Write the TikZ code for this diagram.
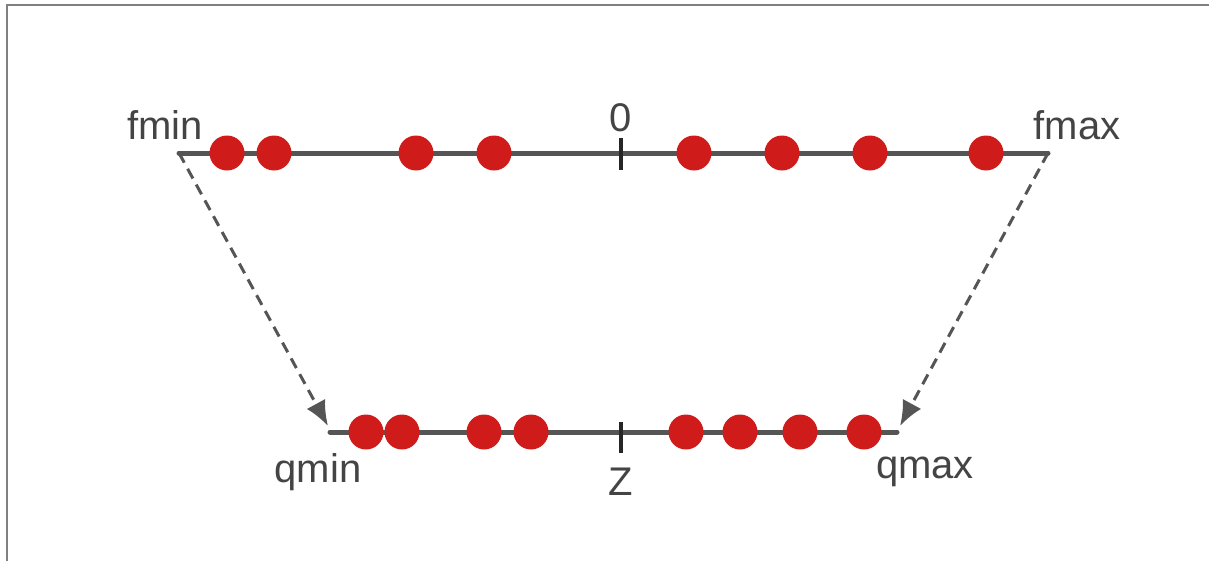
\documentclass[tikz,border=0pt]{standalone}
\usepackage{fontspec}
\setmainfont{Liberation Sans}
\usetikzlibrary{arrows.meta}
\definecolor{axisgray}{HTML}{555555}
\definecolor{dotred}{HTML}{D01B1B}
\definecolor{txtgray}{HTML}{444444}
\definecolor{framegray}{HTML}{808080}
\tikzset{
  axis/.style={draw=axisgray, line width=5pt, line cap=round},
  dot/.style={circle, fill=dotred, inner sep=0pt, minimum width=35pt, minimum height=33pt},
  tickmark/.style={draw=black!85, line width=4pt},
  lbl/.style={text=txtgray, font=\fontsize{40}{40}\selectfont, inner sep=0pt},
  maparrow/.style={draw=axisgray, line width=3pt, dash pattern=on 11pt off 7pt, -{Latex[length=25pt,width=21pt]}},
  frameline/.style={draw=framegray, line width=2pt}
}
\begin{document}
\begin{tikzpicture}[x=1pt,y=-1pt]
\useasboundingbox (0,0) rectangle (1209,562);
% frame
\coordinate (fa) at (7,561);
\coordinate (fb) at (7,5);
\coordinate (fc) at (1209,5);
\draw[frameline] (fa) -- (fb) -- (fc);
% top axis
\coordinate (fmin) at (179,153);
\coordinate (fmax) at (1048,153);
\draw[axis] (fmin) -- (fmax);
\coordinate (t0a) at (621,138);
\coordinate (t0b) at (621,170);
\draw[tickmark] (t0a) -- (t0b);
\foreach \x [count=\i] in {227,274,416,494,694,782,870,986}
  \node[dot] (f\i) at (\x,153) {};
\node[lbl] (l0) at (621,118) {0};
\node[lbl] (lfmin) at (165,125) {fmin};
\node[lbl] (lfmax) at (1077,125) {fmax};
% bottom axis
\coordinate (qmin) at (330,432);
\coordinate (qmax) at (897,432);
\draw[axis] (qmin) -- (qmax);
\coordinate (tza) at (621,422);
\coordinate (tzb) at (621,453);
\draw[tickmark] (tza) -- (tzb);
\foreach \x [count=\i] in {366,402,484,531,686,740,800,864}
  \node[dot] (q\i) at (\x,432) {};
\node[lbl] (lz) at (621,482) {Z};
\node[lbl] (lqmin) at (318,472) {qmin};
\node[lbl] (lqmax) at (925,472) {qmax};
% mapping arrows
\coordinate (amin) at (328,426);
\coordinate (amax) at (900,426);
\draw[maparrow] (fmin) -- (amin);
\draw[maparrow] (fmax) -- (amax);
\end{tikzpicture}
\end{document}
